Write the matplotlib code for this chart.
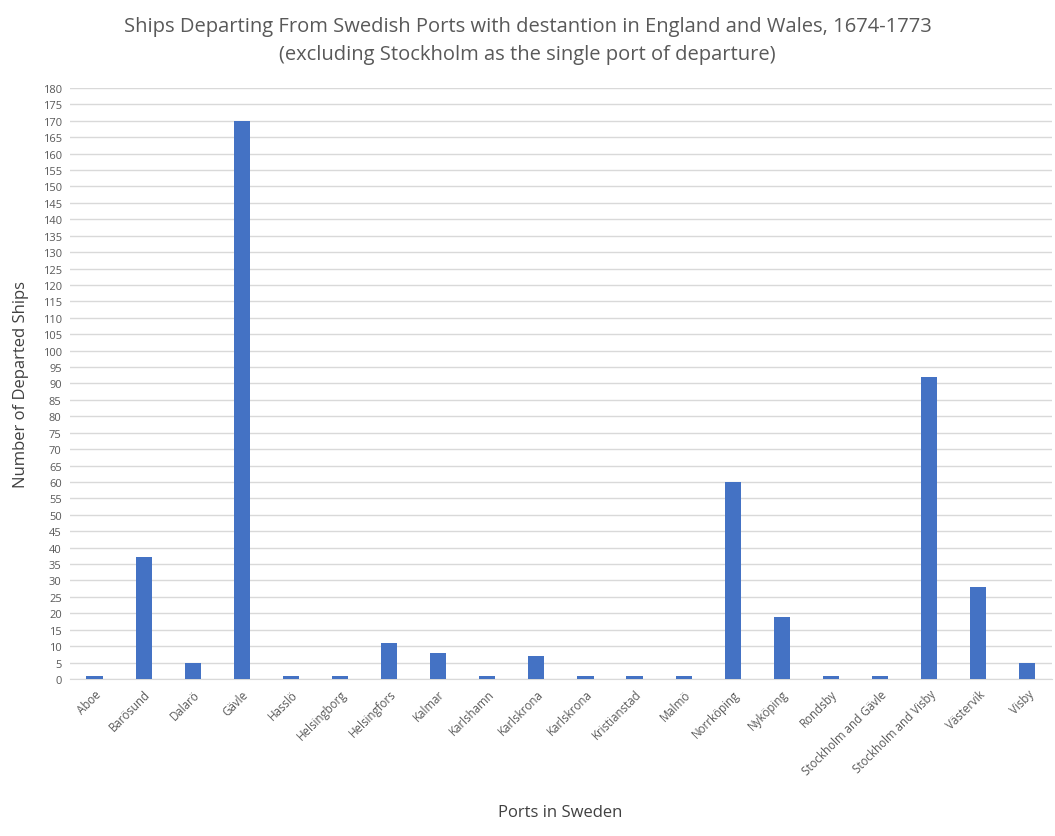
import matplotlib
matplotlib.use("Agg")
import matplotlib.pyplot as plt
import numpy as np

ports = ["Aboe", "Barösund", "Dalarö", "Gävle", "Hasslö", "Helsingborg", "Helsingfors",
         "Kalmar", "Karlshamn", "Karlskrona", "Karlskrona", "Kristianstad", "Malmö",
         "Norrköping", "Nyköping", "Rondsby", "Stockholm and Gävle", "Stockholm and Visby",
         "Västervik", "Visby"]
ships = [1, 37, 5, 170, 1, 1, 11, 8, 1, 7, 1, 1, 1, 60, 19, 1, 1, 92, 28, 5]
yticks = list(range(0, 181, 5))

plt.rcParams['font.family'] = ['Open Sans', 'DejaVu Sans']

fig = plt.figure(figsize=(10.55, 8.37), dpi=100)
ax = fig.add_axes([0.0664, 0.1876, 0.9306, 0.7061])
x = np.arange(len(ports))
ax.bar(x, ships, width=0.33, color="#4472C4", zorder=3)
ax.set_xlim(-0.5, len(ports) - 0.5)
ax.set_ylim(0, 180)
ax.set_yticks(yticks)
ax.set_yticklabels([str(t) for t in yticks], fontsize=8, color="#595959")
ax.set_xticks(x)
ax.set_xticklabels(ports, rotation=45, ha="right", rotation_mode="anchor",
                   fontsize=8.3, color="#595959")
ax.tick_params(axis="both", length=0, pad=6)
ax.grid(axis="y", color="#D9D9D9", linewidth=1, zorder=0)
for s in ["top", "right", "left"]:
    ax.spines[s].set_visible(False)
ax.spines["bottom"].set_color("#D9D9D9")
ax.set_ylabel("Number of Departed Ships", fontsize=12, color="#404040", labelpad=10)
fig.text(0.531, 0.024, "Ports in Sweden", fontsize=12, color="#404040", ha="center")
fig.text(0.5, 0.968, "Ships Departing From Swedish Ports with destantion in England and Wales, 1674-1773",
         fontsize=14.5, color="#595959", ha="center", va="center")
fig.text(0.5, 0.934, "(excluding Stockholm as the single port of departure)",
         fontsize=14.5, color="#595959", ha="center", va="center")
fig.savefig("out.png", dpi=100)
